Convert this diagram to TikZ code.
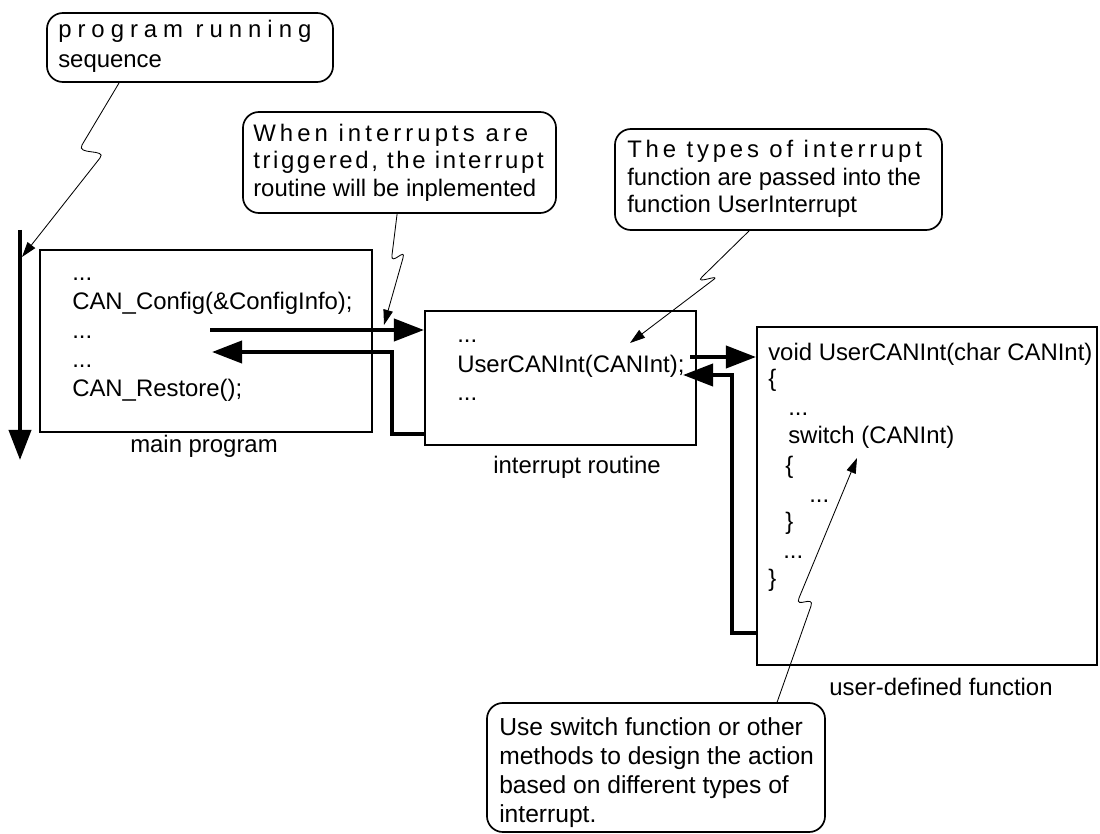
\documentclass[tikz,border=0pt]{standalone}
\usepackage{fontspec}
\setmainfont{Liberation Sans}
\usepackage{tikz}
\usetikzlibrary{arrows.meta}
\usetikzlibrary{calc}
\usetikzlibrary{positioning}

\begin{document}
\begin{tikzpicture}[x=0.025cm, y=-0.025cm,
    font=\fontsize{17}{20}\selectfont,
    block/.style={draw, line width=1.4pt, inner sep=0pt},
    note/.style={draw, line width=1.2pt, rounded corners=0.4cm, inner sep=0pt},
    txt/.style={anchor=base west, inner sep=0pt},
    caption/.style={anchor=base, inner sep=0pt},
    flow/.style={line width=2.8pt, -{Triangle[length=0.75cm,width=0.55cm]}},
    pointer/.style={line width=0.6pt, -{Triangle[length=0.38cm,width=0.24cm]}}]

            \useasboundingbox (0,0) rectangle (1100,834);

            % blocks
            \draw (206,341) node[block, minimum width=8.3cm, minimum height=4.55cm]    (mainbox) {};
            \draw (560.5,378) node[block, minimum width=6.775cm, minimum height=3.35cm] (intbox) {};
            \draw (927,496) node[block, minimum width=8.5cm, minimum height=8.45cm]    (fnbox) {};

            \draw (204,452) node[caption] (mainlabel) {main program};
            \draw (577,473) node[caption] (intlabel) {interrupt routine};
            \draw (941,695) node[caption] (fnlabel) {user-defined function};

            % main program
            \draw (72,281) node[txt] (m1) {...};
            \draw (72,310) node[txt] (m2) {CAN\_Config(\&ConfigInfo);};
            \draw (72,338) node[txt] (m3) {...};
            \draw (72,367) node[txt] (m4) {...};
            \draw (72,396) node[txt] (m5) {CAN\_Restore();};

            % interrupt routine
            \draw (457,342) node[txt] (r1) {...};
            \draw (457,372) node[txt] (r2) {UserCANInt(CANInt);};
            \draw (457,400) node[txt] (r3) {...};

            % user-defined function
            \draw (768,360) node[txt] (f1) {void UserCANInt(char CANInt)};
            \draw (768,386) node[txt] (f2) {\{};
            \draw (788,415) node[txt] (f3) {...};
            \draw (788,443) node[txt] (f4) {switch (CANInt)};
            \draw (785,473) node[txt] (f5) {\{};
            \draw (809,502) node[txt] (f6) {...};
            \draw (785,529) node[txt] (f7) {\}};
            \draw (783,558) node[txt] (f8) {...};
            \draw (768,586) node[txt] (f9) {\}};

            % callouts
            \draw (190,47.5) node[note, minimum width=7.15cm, minimum height=1.725cm] (note1) {};
            \draw (58,38) node[txt] (n1a) {\addfontfeature{LetterSpace=25}program running};
            \draw (58,68) node[txt] (n1b) {sequence};

            \draw (399.5,162.5) node[note, minimum width=7.825cm, minimum height=2.525cm] (note2) {};
            \draw (253,142) node[txt] (n2a) {\addfontfeature{LetterSpace=17}When interrupts are};
            \draw (253,169) node[txt] (n2b) {\addfontfeature{LetterSpace=11}triggered, the interrupt};
            \draw (253,197) node[txt] (n2c) {routine will be inplemented};

            \draw (778.5,179.5) node[note, minimum width=8.175cm, minimum height=2.525cm] (note3) {};
            \draw (627,158) node[txt] (n3a) {\addfontfeature{LetterSpace=16}The types of interrupt};
            \draw (627,186) node[txt] (n3b) {function are passed into the};
            \draw (627,213) node[txt] (n3c) {function UserInterrupt};

            \draw (656,767.5) node[note, minimum width=8.45cm, minimum height=3.225cm] (note4) {};
            \draw (499,735) node[txt, font=\fontsize{17.5}{20}\selectfont] (n4a) {Use switch function or other};
            \draw (499,764) node[txt, font=\fontsize{17.5}{20}\selectfont] (n4b) {methods to design the action};
            \draw (499,793) node[txt, font=\fontsize{17.5}{20}\selectfont] (n4c) {based on different types of};
            \draw (499,822) node[txt, font=\fontsize{17.5}{20}\selectfont] (n4d) {interrupt.};

            % program flow and calls
            \coordinate (seqtop) at (20,230);
            \coordinate (seqend) at (20,460);
            \draw[flow] (seqtop) -- (seqend);

            \coordinate (calls) at (210,330);
            \coordinate (retend) at (212,352);
            \draw[flow] (calls) -- (calls -| intbox.west);
            \draw[flow] ([yshift=0.3cm]intbox.south west) -- ++(-32,0) |- (retend);

            \coordinate (ucalls) at (690,357);
            \coordinate (uret) at (683,375);
            \draw[flow] (ucalls) -- (ucalls -| fnbox.west);
            \draw[flow] ([yshift=0.825cm]fnbox.south west) -- ++(-24,0) |- (uret);

            % pointers of the callouts
            \coordinate (seqpt) at (22,257);
            \coordinate (callpt) at (384,325);
            \coordinate (passpt) at (630,343);
            \coordinate (switchpt) at (857,458);
            \draw[pointer] ($(note1.south west)+(73,0)$) -- (82,145)
                .. controls (75.8,155.3) and (107.4,148.6) .. (100,158) -- (seqpt);
            \draw[pointer] ($(note2.south west)+(155,0)$) -- (392,255)
                .. controls (390.3,266.9) and (406.3,246.5) .. (403,258) -- (callpt);
            \draw[pointer] ($(note3.south west)+(135,0)$) -- (702,277)
                .. controls (693.4,285.4) and (722.6,272.7) .. (713,280) -- (passpt);
            \draw[pointer] ($(note4.north west)+(291,0)$) -- (811,606)
                .. controls (814.9,594.6) and (794.4,609.1) .. (799,598) -- (switchpt);

\end{tikzpicture}
\end{document}
